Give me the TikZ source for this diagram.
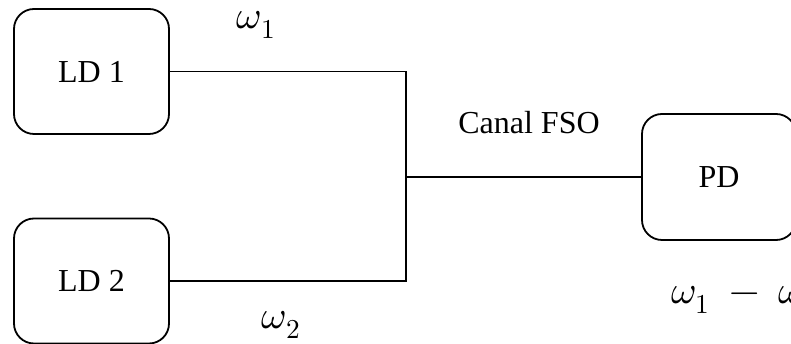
\documentclass[tikz,border=0pt]{standalone}
\usepackage{fontspec}
\usepackage{unicode-math}
\setmainfont{Liberation Serif}
\setmathfont{Latin Modern Math}
\begin{document}
\begin{tikzpicture}[x=1pt,y=1pt,
  blk/.style={draw, line width=1.8pt, rounded corners=20pt, minimum width=155pt, minimum height=125pt, inner sep=0pt, font=\fontsize{32}{38}\selectfont},
  wire/.style={line width=1.3pt},
  lbl/.style={inner sep=0pt, font=\fontsize{32}{38}\selectfont},
  mlbl/.style={inner sep=0pt, font=\fontsize{39}{46}\selectfont}]
\useasboundingbox (0,0) rectangle (791,344);
\begin{scope}
\clip (0,0) rectangle (791,344);
\node[blk] (ld1) at (91.5,272.5) {LD 1};
\node[blk] (ld2) at (91.5,63) {LD 2};
\node[blk, minimum width=154pt, minimum height=126pt] (pd) at (719,167) {PD};
\node[mlbl, anchor=west] (w12) at (671,44) {$\omega_1\mskip5mu-\mskip5mu\omega_2$};
\end{scope}
\coordinate (j) at (406,167);
\draw[wire] (ld1.east) -| (j);
\draw[wire] (ld2.east) -| (j);
\draw[wire] (j) -- (pd.west);
\node[mlbl] (w1) at (256,319) {$\omega_1$};
\node[mlbl] (w2) at (281,19) {$\omega_2$};
\node[lbl] (fso) at (529,221) {Canal FSO};
\end{tikzpicture}
\end{document}
